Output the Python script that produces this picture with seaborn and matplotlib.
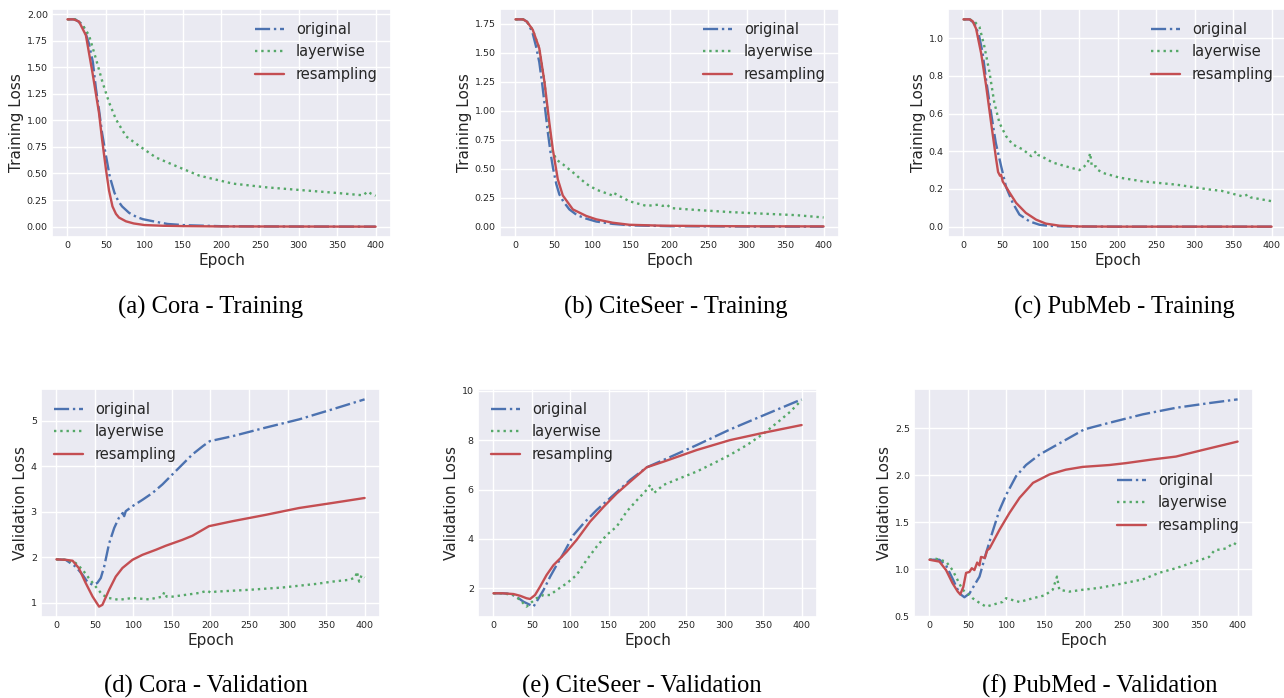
import matplotlib
matplotlib.use("Agg")
import matplotlib.pyplot as plt
import seaborn as sns

# ---- (a) Cora - Training ----
cora_tr_orig_x = [0, 10, 20, 28, 33, 37, 41, 45, 50, 55, 61, 66, 71, 80, 90, 98, 115, 130, 154, 200, 250, 300, 400]
cora_tr_orig_y = [1.95, 1.95, 1.9, 1.72, 1.55, 1.3, 1.1, 0.88, 0.67, 0.47, 0.32, 0.24, 0.19, 0.13, 0.09, 0.07, 0.045, 0.025, 0.013, 0.004, 0.002, 0.001, 0.0]
cora_tr_layer_x = [0, 10, 19.5, 28, 37, 45.5, 54, 63, 76, 93, 115, 141, 171, 214.5, 258, 301, 344.5, 383.5, 390, 394, 400]
cora_tr_layer_y = [1.95, 1.95, 1.9, 1.8, 1.58, 1.36, 1.17, 1.01, 0.85, 0.76, 0.65, 0.57, 0.48, 0.405, 0.37, 0.345, 0.32, 0.295, 0.33, 0.31, 0.29]
cora_tr_res_x = [0, 8, 15, 24, 32.5, 41, 45, 50, 54, 58.5, 63, 67, 76, 86, 100, 125, 150, 200, 300, 400]
cora_tr_res_y = [1.95, 1.95, 1.93, 1.8, 1.45, 1.07, 0.82, 0.54, 0.34, 0.19, 0.12, 0.085, 0.05, 0.03, 0.015, 0.008, 0.005, 0.002, 0.001, 0.0]

# ---- (b) CiteSeer - Training ----
cite_tr_orig_x = [0, 10, 15, 22, 27, 31, 35, 38, 42, 46, 49, 53, 57, 62, 70, 80, 92, 105, 126, 150, 200, 300, 400]
cite_tr_orig_y = [1.79, 1.79, 1.77, 1.68, 1.55, 1.42, 1.22, 1.05, 0.82, 0.62, 0.5, 0.37, 0.28, 0.22, 0.15, 0.1, 0.07, 0.045, 0.025, 0.012, 0.005, 0.002, 0.001]
cite_tr_layer_x = [0, 10, 15, 22.5, 31, 37.7, 44, 48.5, 53, 61.5, 74.5, 92, 105, 126, 128, 148, 170, 185, 191, 197, 200, 204, 234.6, 278, 321, 364.5, 400]
cite_tr_layer_y = [1.79, 1.79, 1.77, 1.7, 1.54, 1.25, 0.85, 0.65, 0.58, 0.54, 0.47, 0.37, 0.32, 0.27, 0.29, 0.22, 0.18, 0.19, 0.18, 0.19, 0.17, 0.16, 0.145, 0.127, 0.113, 0.1, 0.08]
cite_tr_res_x = [0, 10, 15, 22.5, 31, 37.7, 44, 48.5, 55, 61.5, 74.5, 92, 105, 126, 148, 191, 250, 300, 400]
cite_tr_res_y = [1.79, 1.79, 1.77, 1.7, 1.54, 1.25, 0.9, 0.67, 0.41, 0.27, 0.15, 0.093, 0.064, 0.035, 0.017, 0.009, 0.006, 0.004, 0.003]

# ---- (c) PubMed - Training ----
pub_tr_orig_x = [0, 8, 14, 20, 25, 29.4, 36, 42, 49, 55.4, 64, 72.7, 85.7, 98.7, 111.7, 130, 200, 400]
pub_tr_orig_y = [1.1, 1.1, 1.08, 1.02, 0.92, 0.78, 0.6, 0.445, 0.32, 0.21, 0.126, 0.064, 0.028, 0.01, 0.004, 0.001, 0.0, 0.0]
pub_tr_layer_x = [0, 8, 14, 20.8, 27, 33.8, 40, 46.8, 55.4, 64, 77, 88, 94.4, 97, 101, 116, 133, 150.6, 157, 161.5, 164.5, 166.7, 172, 175, 181, 202.6, 233, 276, 319.5, 328, 335, 363, 369, 373, 400]
pub_tr_layer_y = [1.1, 1.1, 1.09, 1.06, 0.96, 0.82, 0.66, 0.55, 0.48, 0.436, 0.41, 0.374, 0.4, 0.38, 0.374, 0.34, 0.32, 0.3, 0.32, 0.34, 0.39, 0.32, 0.32, 0.3, 0.285, 0.26, 0.24, 0.223, 0.197, 0.193, 0.19, 0.16, 0.17, 0.155, 0.135]
pub_tr_res_x = [0, 8, 12, 16.5, 23, 29.4, 36, 42.4, 45, 47.5, 49, 51, 60, 68.4, 81, 94.4, 107, 124.7, 150, 200, 400]
pub_tr_res_y = [1.1, 1.1, 1.09, 1.05, 0.92, 0.75, 0.55, 0.36, 0.29, 0.27, 0.275, 0.24, 0.18, 0.126, 0.073, 0.037, 0.016, 0.005, 0.001, 0.0, 0.0]

# ---- (d) Cora - Validation ----
cora_va_orig_x = [0, 12, 25, 34, 40, 47, 53, 57.6, 62, 68.4, 75, 81, 86, 88, 90, 98.7, 111.7, 124.7, 137.7, 150.6, 163.6, 176.6, 190, 199, 228.6, 271.9, 315, 358, 400]
cora_va_orig_y = [1.95, 1.94, 1.79, 1.61, 1.46, 1.39, 1.43, 1.54, 1.79, 2.3, 2.64, 2.86, 2.97, 2.9, 3.01, 3.12, 3.26, 3.41, 3.6, 3.82, 4.04, 4.26, 4.44, 4.55, 4.66, 4.85, 5.03, 5.25, 5.47]
cora_va_layer_x = [0, 12, 25, 34, 42, 51, 59.7, 68, 81, 98.7, 120, 137.7, 140, 143, 150.6, 168, 185, 196, 200, 207, 250, 293, 337, 358, 380, 388, 390, 393, 396, 400]
cora_va_layer_y = [1.95, 1.94, 1.87, 1.72, 1.54, 1.35, 1.17, 1.1, 1.06, 1.1, 1.07, 1.13, 1.23, 1.13, 1.13, 1.17, 1.21, 1.26, 1.22, 1.24, 1.28, 1.33, 1.41, 1.46, 1.5, 1.55, 1.68, 1.46, 1.6, 1.55]
cora_va_res_x = [0, 12, 21, 29, 38, 47, 55.4, 59.7, 68.4, 77, 85.7, 98.7, 111.7, 129, 142, 163.6, 176.6, 198, 228.6, 271.9, 315, 358, 400]
cora_va_res_y = [1.95, 1.94, 1.92, 1.76, 1.43, 1.13, 0.91, 0.95, 1.28, 1.57, 1.76, 1.94, 2.05, 2.16, 2.25, 2.38, 2.47, 2.68, 2.79, 2.93, 3.08, 3.19, 3.3]

# ---- (e) CiteSeer - Validation ----
cite_va_orig_x = [0, 12, 21.6, 30, 39, 47.6, 52, 56, 65, 73.6, 82, 91, 104, 117, 134, 156, 177.5, 199, 221, 264, 307, 351, 400]
cite_va_orig_y = [1.8, 1.8, 1.78, 1.66, 1.46, 1.33, 1.26, 1.46, 1.93, 2.47, 2.94, 3.42, 4.16, 4.63, 5.17, 5.78, 6.39, 6.9, 7.2, 7.8, 8.43, 9.01, 9.65]
cite_va_layer_x = [0, 12, 26, 34.6, 43, 47.6, 56, 65, 73.6, 82, 95, 108, 121, 134, 147, 160, 173, 186.6, 199, 203.5, 208, 221, 242.4, 264, 285.7, 307, 329, 351, 372.3, 385.3, 400]
cite_va_layer_y = [1.8, 1.8, 1.73, 1.53, 1.26, 1.39, 1.6, 1.73, 1.73, 1.93, 2.2, 2.54, 3.15, 3.69, 4.16, 4.5, 5.11, 5.58, 5.99, 6.19, 5.85, 6.19, 6.46, 6.73, 7.06, 7.4, 7.8, 8.27, 8.81, 9.15, 9.62]
cite_va_res_x = [0, 12, 26, 34.6, 43, 47.6, 54, 60.6, 69, 78, 86.6, 95, 108, 125.5, 143, 160, 177.5, 199, 221, 264, 307, 351, 400]
cite_va_res_y = [1.8, 1.8, 1.77, 1.7, 1.6, 1.57, 1.73, 2.07, 2.54, 2.94, 3.21, 3.48, 3.96, 4.7, 5.3, 5.84, 6.32, 6.9, 7.13, 7.6, 8.0, 8.3, 8.61]

# ---- (f) PubMed - Validation ----
pub_va_orig_x = [0, 13, 21.6, 30, 39, 45.4, 52, 58.4, 65, 73.5, 82, 91, 99.5, 112.4, 125.4, 142.7, 168.6, 201, 233.5, 276.8, 320, 363, 400]
pub_va_orig_y = [1.1, 1.1, 1.04, 0.9, 0.74, 0.7, 0.74, 0.83, 0.92, 1.17, 1.4, 1.63, 1.79, 1.99, 2.11, 2.22, 2.34, 2.49, 2.56, 2.65, 2.72, 2.77, 2.81]
pub_va_layer_x = [0, 8.6, 21.6, 30, 36.8, 43, 49.7, 56, 65, 73.5, 82, 95, 99.5, 108, 117, 134.5, 149.5, 160, 165.6, 168.6, 181.6, 199, 220.5, 246.5, 276.8, 298, 320, 341.6, 363, 370, 384.9, 395, 400]
pub_va_layer_y = [1.1, 1.11, 1.08, 0.99, 0.88, 0.78, 0.74, 0.69, 0.64, 0.6, 0.62, 0.65, 0.69, 0.67, 0.65, 0.69, 0.72, 0.78, 0.92, 0.78, 0.76, 0.78, 0.8, 0.84, 0.89, 0.96, 1.01, 1.07, 1.13, 1.2, 1.22, 1.28, 1.25]
pub_va_res_x = [0, 13, 21.6, 30, 36.8, 40, 44, 47.6, 52, 55, 58.4, 62, 65, 67, 72, 75, 78, 91, 104, 117, 134.5, 156, 177, 199, 233.5, 255, 290, 320, 354.6, 400]
pub_va_res_y = [1.1, 1.08, 0.99, 0.85, 0.76, 0.73, 0.81, 0.96, 0.97, 1.01, 0.99, 1.07, 1.04, 1.13, 1.12, 1.2, 1.22, 1.42, 1.6, 1.76, 1.92, 2.01, 2.06, 2.09, 2.11, 2.13, 2.17, 2.2, 2.27, 2.36]

captions = ["(a) Cora - Training", "(b) CiteSeer - Training", "(c) PubMeb - Training",
            "(d) Cora - Validation", "(e) CiteSeer - Validation", "(f) PubMed - Validation"]

sns.set_theme(style="darkgrid")
plt.rcParams["font.family"] = ["DejaVu Sans"]

BLUE, GREEN, RED = "#4C72B0", "#55A868", "#C44E52"

fig = plt.figure(figsize=(12.84, 6.98), dpi=100)

panels = [
    (cora_tr_orig_x, cora_tr_orig_y, cora_tr_layer_x, cora_tr_layer_y, cora_tr_res_x, cora_tr_res_y),
    (cite_tr_orig_x, cite_tr_orig_y, cite_tr_layer_x, cite_tr_layer_y, cite_tr_res_x, cite_tr_res_y),
    (pub_tr_orig_x, pub_tr_orig_y, pub_tr_layer_x, pub_tr_layer_y, pub_tr_res_x, pub_tr_res_y),
    (cora_va_orig_x, cora_va_orig_y, cora_va_layer_x, cora_va_layer_y, cora_va_res_x, cora_va_res_y),
    (cite_va_orig_x, cite_va_orig_y, cite_va_layer_x, cite_va_layer_y, cite_va_res_x, cite_va_res_y),
    (pub_va_orig_x, pub_va_orig_y, pub_va_layer_x, pub_va_layer_y, pub_va_res_x, pub_va_res_y),
]

# axes rectangles in pixels: left, top (width 339, height 228)
W, H = 1284, 698
rects = [(52, 9), (500, 9), (948, 9), (41, 389), (478, 389), (914, 389)]
legend_locs = ["upper right", "upper right", "upper right", "upper left", "upper left", "center right"]
ylabels = ["Training Loss"] * 3 + ["Validation Loss"] * 3
cap_pos = [(211, 307), (676, 307), (1124, 307), (206, 686), (642, 686), (1100, 686)]

for i, (ox, oy, lx, ly, rx, ry) in enumerate(panels):
    left, top = rects[i]
    ax = fig.add_axes([left / W, 1 - (top + 228) / H, 339 / W, 228 / H])
    sns.lineplot(x=ox, y=oy, ax=ax, color=BLUE, linestyle="-.", lw=1.7, label="original", estimator=None)
    sns.lineplot(x=lx, y=ly, ax=ax, color=GREEN, linestyle=":", lw=1.7, label="layerwise", estimator=None)
    sns.lineplot(x=rx, y=ry, ax=ax, color=RED, linestyle="-", lw=1.7, label="resampling", estimator=None)
    ax.set_xticks(range(0, 401, 50))
    ax.tick_params(labelsize=6.8, length=0, pad=3)
    ax.set_xlabel("Epoch", fontsize=11, labelpad=2)
    ax.set_ylabel(ylabels[i], fontsize=11, labelpad=2)
    ax.legend(loc=legend_locs[i], frameon=False, fontsize=10.5)
    cx, cy = cap_pos[i]
    fig.text(cx / W, 1 - cy / H, captions[i], ha="center", va="center",
             fontsize=17.7, family="Liberation Serif", color="black")

fig.savefig("out.png", dpi=100)
